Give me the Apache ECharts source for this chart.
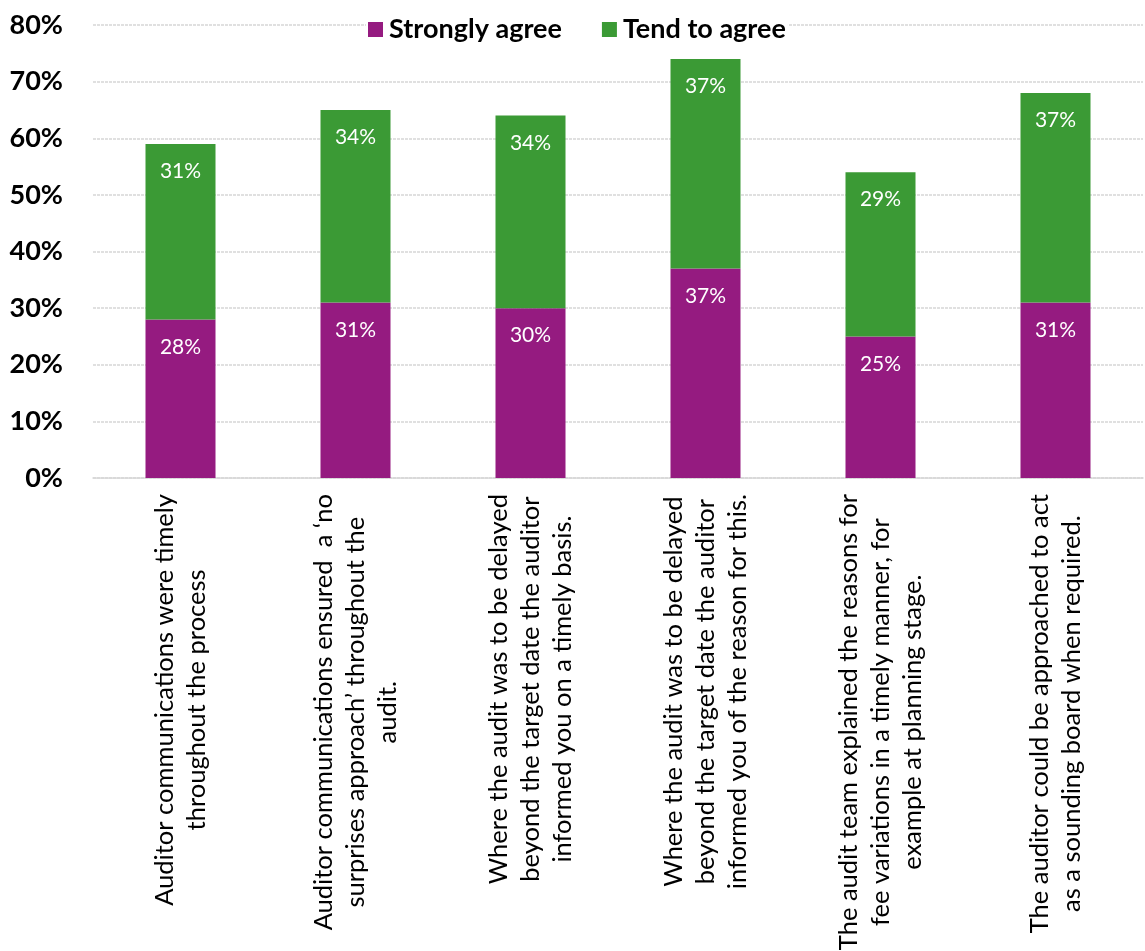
<!DOCTYPE html>
<html>
<head>
<meta charset="utf-8">
<script src="https://cdn.jsdelivr.net/npm/echarts@6/dist/echarts.min.js"></script>
<style>
  html, body { margin: 0; padding: 0; background: #ffffff; }
  #chart { width: 1145px; height: 951px; }
</style>
</head>
<body>
<div id="chart"></div>
<script>
// Survey statements (line breaks as they appear under the axis)
const categories = [
  "Auditor communications were timely\nthroughout the process",
  "Auditor communications ensured  a \u2018no\nsurprises approach\u2019 throughout the\naudit.",
  "Where the audit was to be delayed\nbeyond the target date the auditor\ninformed you on a timely basis.",
  "Where the audit was to be delayed\nbeyond the target date the auditor\ninformed you of the reason for this.",
  "The audit team explained the reasons for\nfee variations in a timely manner, for\nexample at planning stage.",
  "The auditor could be approached to act\nas a sounding board when required."
];
const seriesNames = ["Strongly agree", "Tend to agree"];
const stronglyAgree = [28, 31, 30, 37, 25, 31];
const tendToAgree = [31, 34, 34, 37, 29, 37];
const yTicks = [0, 10, 20, 30, 40, 50, 60, 70, 80];

const FONT = "Lato";
const PURPLE = "#951b80";
const GREEN = "#3b9a35";
const GRID_GRAY = "#d6d6d6";

const chart = echarts.init(document.getElementById("chart"), null, { renderer: "canvas" });

const valueLabel = {
  show: true,
  position: "insideTop",
  distance: 17,
  color: "#ffffff",
  fontFamily: FONT,
  fontSize: 21,
  formatter: p => p.value + "%"
};

chart.setOption({
  animation: false,
  backgroundColor: "#ffffff",
  textStyle: { fontFamily: FONT },
  legend: {
    data: seriesNames,
    left: 366,
    top: 14,
    itemWidth: 15,
    itemHeight: 15,
    itemGap: 40,
    icon: "rect",
    backgroundColor: "#ffffff",
    padding: [2, 2, 2, 2],
    textStyle: { fontFamily: FONT, fontWeight: "bold", fontSize: 27, color: "#000000", padding: [0, 0, 0, 1] }
  },
  grid: { left: 93, right: 2, top: 25, bottom: 473, containLabel: false, outerBoundsMode: "none" },
  xAxis: {
    type: "category",
    data: categories,
    axisTick: { show: false },
    axisLine: { show: true, lineStyle: { color: GRID_GRAY, width: 1.5, type: [3, 1] } },
    axisLabel: {
      interval: 0,
      rotate: 90,
      margin: 16,
      color: "#000000",
      fontFamily: FONT,
      fontSize: 25.5,
      lineHeight: 32,
      formatter: v => v.split("\n").map(s => "{c|" + s + "}").join("\n"),
      rich: { c: { align: "center", fontFamily: FONT, fontSize: 25.5, lineHeight: 32, color: "#000000" } }
    }
  },
  yAxis: {
    type: "value",
    min: yTicks[0],
    max: yTicks[yTicks.length - 1],
    interval: yTicks[1] - yTicks[0],
    axisLine: { show: false },
    axisTick: { show: false },
    splitLine: { show: true, lineStyle: { color: GRID_GRAY, width: 1.5, type: [3, 1] } },
    axisLabel: {
      margin: 30,
      color: "#000000",
      fontFamily: FONT,
      fontWeight: "bold",
      fontSize: 27,
      formatter: v => v + "%"
    }
  },
  series: [
    {
      name: seriesNames[0],
      type: "bar",
      stack: "total",
      barWidth: "40%",
      itemStyle: { color: PURPLE },
      label: valueLabel,
      data: stronglyAgree
    },
    {
      name: seriesNames[1],
      type: "bar",
      stack: "total",
      barWidth: "40%",
      itemStyle: { color: GREEN },
      label: valueLabel,
      data: tendToAgree
    }
  ]
});
</script>
</body>
</html>
